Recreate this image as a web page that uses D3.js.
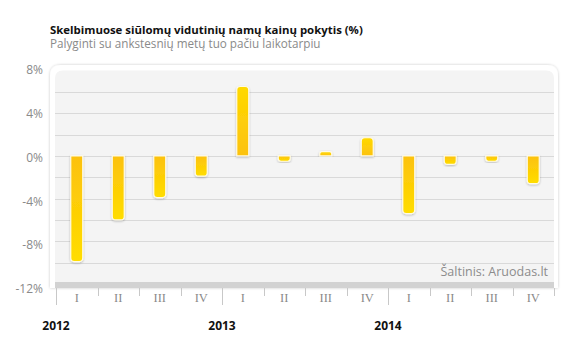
<!DOCTYPE html>
<html>
<head>
<meta charset="utf-8">
<script src="https://cdn.jsdelivr.net/npm/d3@7/dist/d3.min.js"></script>
<style>
  html, body { margin: 0; padding: 0; background: #fff; }
  svg { display: block; }
</style>
</head>
<body>
<svg id="chart" width="565" height="341"></svg>
<script>
// Quarterly change in advertised average house prices, %
const years = ["2012", "2013", "2014"];
const quarters = ["I", "II", "III", "IV"];
const values = [-9.9, -6.0, -3.9, -1.9, 6.5, -0.5, 0.4, 1.7, -5.4, -0.8, -0.5, -2.6];
const yTicks = [8, 4, 0, -4, -8, -12];
const gridValues = [6, 4, 2, 0, -2, -4, -6, -8, -10];

const titleText = "Skelbimuose siūlomų vidutinių namų kainų pokytis (%)";
const subtitleText = "Palyginti su ankstesnių metų tuo pačiu laikotarpiu";
const sourceText = "Šaltinis: Aruodas.lt";

const categories = [];
years.forEach(y => quarters.forEach(q => categories.push(y + "-" + q)));

const svg = d3.select("#chart");
const font = "'Open Sans', 'Noto Sans', sans-serif";

const plot = { left: 55, right: 554, top: 70.5, bottom: 284 };

const x = d3.scaleBand().domain(categories).range([plot.left + 1, plot.right]).paddingInner(0).paddingOuter(0);
const y = d3.scaleLinear().domain([-12, 8]).range([plot.bottom, plot.top]);
const yLabel = d3.scaleLinear().domain([-12, 8]).range([289, 70]);

const defs = svg.append("defs");
const shadow = defs.append("filter").attr("id", "panelShadow")
  .attr("x", "-5%").attr("y", "-10%").attr("width", "110%").attr("height", "120%");
shadow.append("feGaussianBlur").attr("in", "SourceAlpha").attr("stdDeviation", 1.6);
shadow.append("feComponentTransfer").append("feFuncA").attr("type", "linear").attr("slope", 0.22);
const sm = shadow.append("feMerge");
sm.append("feMergeNode");
sm.append("feMergeNode").attr("in", "SourceGraphic");

const barShadow = defs.append("filter").attr("id", "barShadow")
  .attr("x", "-50%").attr("y", "-20%").attr("width", "200%").attr("height", "140%");
barShadow.append("feGaussianBlur").attr("in", "SourceAlpha").attr("stdDeviation", 0.8);
barShadow.append("feOffset").attr("dy", 0.6).attr("dx", 0.3);
barShadow.append("feComponentTransfer").append("feFuncA").attr("type", "linear").attr("slope", 0.25);
const bm = barShadow.append("feMerge");
bm.append("feMergeNode");
bm.append("feMergeNode").attr("in", "SourceGraphic");

// gold near the zero line, brighter yellow toward the bar end
const gNeg = defs.append("linearGradient").attr("id", "gNeg").attr("x1", 0).attr("y1", 0).attr("x2", 0).attr("y2", 1);
gNeg.append("stop").attr("offset", "0%").attr("stop-color", "#fcc10c");
gNeg.append("stop").attr("offset", "100%").attr("stop-color", "#ffdd00");
const gPos = defs.append("linearGradient").attr("id", "gPos").attr("x1", 0).attr("y1", 0).attr("x2", 0).attr("y2", 1);
gPos.append("stop").attr("offset", "0%").attr("stop-color", "#ffd900");
gPos.append("stop").attr("offset", "100%").attr("stop-color", "#fcc210");

// Titles
svg.append("text").attr("x", 50).attr("y", 33.5)
  .attr("font-family", font).attr("font-size", 11.4).attr("font-weight", 700)
  .attr("fill", "#111").text(titleText);
svg.append("text").attr("x", 50).attr("y", 48)
  .attr("font-family", font).attr("font-size", 11.7)
  .attr("fill", "#8a8a8a").text(subtitleText);

// Panel: white rounded frame with soft shadow, light grey plot area
const r = 11;
const px0 = 50, py0 = 65, px1 = 558, py1 = 288;
svg.append("path")
  .attr("d", `M${px0},${py1} L${px0},${py0 + r} Q${px0},${py0} ${px0 + r},${py0} L${px1 - r},${py0} Q${px1},${py0} ${px1},${py0 + r} L${px1},${py1} Z`)
  .attr("fill", "#fff").attr("filter", "url(#panelShadow)");
const ir = 8;
svg.append("path")
  .attr("d", `M${plot.left},${plot.bottom} L${plot.left},${plot.top + ir} Q${plot.left},${plot.top} ${plot.left + ir},${plot.top} L${plot.right - ir},${plot.top} Q${plot.right},${plot.top} ${plot.right},${plot.top + ir} L${plot.right},${plot.bottom} Z`)
  .attr("fill", "#f4f4f4");

// Gridlines
svg.append("g").selectAll("line").data(gridValues).join("line")
  .attr("x1", plot.left).attr("x2", plot.right)
  .attr("y1", d => Math.round(y(d)) + 0.5).attr("y2", d => Math.round(y(d)) + 0.5)
  .attr("stroke", "#d9d9d9").attr("stroke-width", 1);

// Floor band along the category axis
svg.append("rect").attr("x", plot.left).attr("y", 282).attr("width", plot.right - plot.left).attr("height", 6)
  .attr("fill", "#d2d2d2");

// Source note
svg.append("text").attr("x", 548).attr("y", 276).attr("text-anchor", "end")
  .attr("font-family", font).attr("font-size", 12.5).attr("fill", "#8c8c8c").text(sourceText);

// Y-axis labels
svg.append("g").selectAll("text").data(yTicks).join("text")
  .attr("x", 43).attr("y", d => yLabel(d)).attr("dy", "0.35em").attr("text-anchor", "end")
  .attr("font-family", font).attr("font-size", 12).attr("fill", "#8a8a8a")
  .text(d => d + "%");

// Category axis: separators between quarters, longer at year starts
const xAxis = d3.axisBottom(x).tickSize(0).tickFormat(d => d.split("-")[1]);
const gx = svg.append("g").attr("transform", `translate(0,288)`).call(xAxis);
gx.select(".domain").remove();
gx.selectAll("text").attr("y", 5).attr("dy", "0.75em")
  .attr("font-family", "'Liberation Serif', 'DejaVu Serif', serif").attr("font-size", 12.5).attr("fill", "#8a8a8a");

const bounds = categories.map(c => x(c)).concat([x(categories[categories.length - 1]) + x.bandwidth()]);
svg.append("g").selectAll("line").data(bounds).join("line")
  .attr("x1", d => Math.round(d) + 0.5).attr("x2", d => Math.round(d) + 0.5)
  .attr("y1", 288).attr("y2", (d, i) => (i % 4 === 0 && i < 12) ? 305 : 296)
  .attr("stroke", "#c8c8c8").attr("stroke-width", 1);

// Year labels centred on the year-start separator
svg.append("g").selectAll("text").data(years).join("text")
  .attr("x", d => x(d + "-I")).attr("y", 330).attr("text-anchor", "middle")
  .attr("font-family", font).attr("font-size", 12).attr("font-weight", 700).attr("fill", "#111")
  .text(d => d);

// Bars: square at zero, rounded at the far end
const bw = 12, br = 3.5;
function barPath(v, cx) {
  const x0 = cx - bw / 2, x1 = cx + bw / 2;
  const y0 = y(0), y1 = y(v);
  const rr = Math.min(br, Math.abs(y1 - y0) / 2);
  if (v < 0) {
    return `M${x0},${y0} L${x1},${y0} L${x1},${y1 - rr} Q${x1},${y1} ${x1 - rr},${y1} L${x0 + rr},${y1} Q${x0},${y1} ${x0},${y1 - rr} Z`;
  }
  return `M${x0},${y0} L${x0},${y1 + rr} Q${x0},${y1} ${x0 + rr},${y1} L${x1 - rr},${y1} Q${x1},${y1} ${x1},${y1 + rr} L${x1},${y0} Z`;
}
svg.append("g").selectAll("path").data(values).join("path")
  .attr("d", (v, i) => barPath(v, x(categories[i]) + x.bandwidth() / 2))
  .attr("fill", v => v < 0 ? "url(#gNeg)" : "url(#gPos)")
  .attr("stroke", "#fffbe6").attr("stroke-width", 1.2)
  .attr("filter", "url(#barShadow)");
</script>
</body>
</html>
